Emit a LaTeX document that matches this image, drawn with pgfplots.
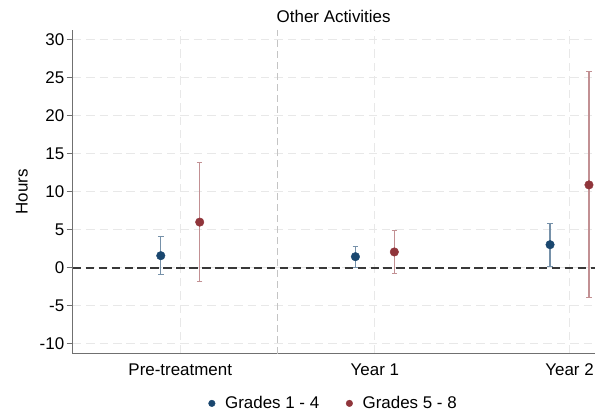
\documentclass[border=0pt]{standalone}
\usepackage{fontspec}
\setmainfont{Liberation Sans}
\usepackage{pgfplots}
\pgfplotsset{compat=1.18}
\definecolor{sblue}{HTML}{1A476F}
\definecolor{sred}{HTML}{90353B}
\definecolor{gridc}{HTML}{E8E8E8}
\definecolor{vline}{HTML}{C4C4C4}
\definecolor{axc}{HTML}{707070}
\begin{document}
\begin{tikzpicture}
\path (-73pt,-62pt) rectangle (524pt,355pt);
\begin{axis}[
  at={(0,0)}, anchor=south west,
  scale only axis, width=524pt, height=325pt,
  xmin=-0.105, xmax=5.258, ymin=-11.31, ymax=31.31,
  axis lines*=left,
  axis line style={draw=axc, line width=1pt},
  xtick={1,3,5}, xticklabels={Pre-treatment,Year 1,Year 2},
  xtick style={draw=none},
  ytick={-10,-5,...,30},
  ytick style={draw=axc, line width=0.8pt},
  tick align=outside, major tick length=6pt,
  /pgf/number format/assume math mode=true,
  ticklabel style={font=\fontsize{17}{20}\selectfont},
  yticklabel style={xshift=1pt},
  xticklabel style={yshift=-1pt},
  xmajorgrids, ymajorgrids,
  grid style={gridc, dash pattern=on 8.5pt off 5pt, line width=0.9pt},
  title={Other Activities},
  title style={font=\fontsize{17}{20}\selectfont, at={(0.5,1)}, anchor=center, yshift=7pt},
  ylabel={Hours},
  ylabel style={font=\fontsize{17}{20}\selectfont, at={(axis description cs:-51/524,0.5)}, anchor=center},
  legend style={at={(0.5,-50/325)}, anchor=center, draw=none, fill=none,
    legend columns=2, font=\fontsize{17}{20}\selectfont,
    /tikz/every odd column/.append style={column sep=8pt},
    /tikz/every even column/.append style={column sep=25pt}},
  legend image code/.code={\draw[mark=*, mark size=3.3pt, #1] plot coordinates {(0pt,0pt)};},
  clip=false,
]
\addplot[vline, dash pattern=on 7pt off 4pt, line width=1pt, forget plot] coordinates {(2,-11.31) (2,31.31)};
\addplot[black!78, dash pattern=on 8.5pt off 4.5pt, line width=1.9pt, forget plot] coordinates {(-0.105,0) (5.258,0)};
\addplot[only marks, mark=*, mark size=4.3pt, color=sblue,
  error bars/.cd, y dir=both, y explicit,
  error bar style={color=sblue!60, line width=1.35pt},
  error mark options={rotate=90, color=sblue!60, mark size=2.8pt, line width=1.2pt}]
  table[x=x, y=y, y error plus=ep, y error minus=em] {
x y ep em
0.8 1.58 2.52 2.53
2.8 1.45 1.31 1.40
4.8 3.03 2.80 2.84
};
\addlegendentry{Grades 1 - 4}
\addplot[only marks, mark=*, mark size=4.3pt, color=sred,
  error bars/.cd, y dir=both, y explicit,
  error bar style={color=sred!55, line width=1.35pt},
  error mark options={rotate=90, color=sred!55, mark size=2.8pt, line width=1.2pt}]
  table[x=x, y=y, y error plus=ep, y error minus=em] {
x y ep em
1.2 6.00 7.90 7.83
3.2 2.07 2.79 2.80
5.2 10.90 14.95 14.87
};
\addlegendentry{Grades 5 - 8}
\end{axis}
\end{tikzpicture}
\end{document}
